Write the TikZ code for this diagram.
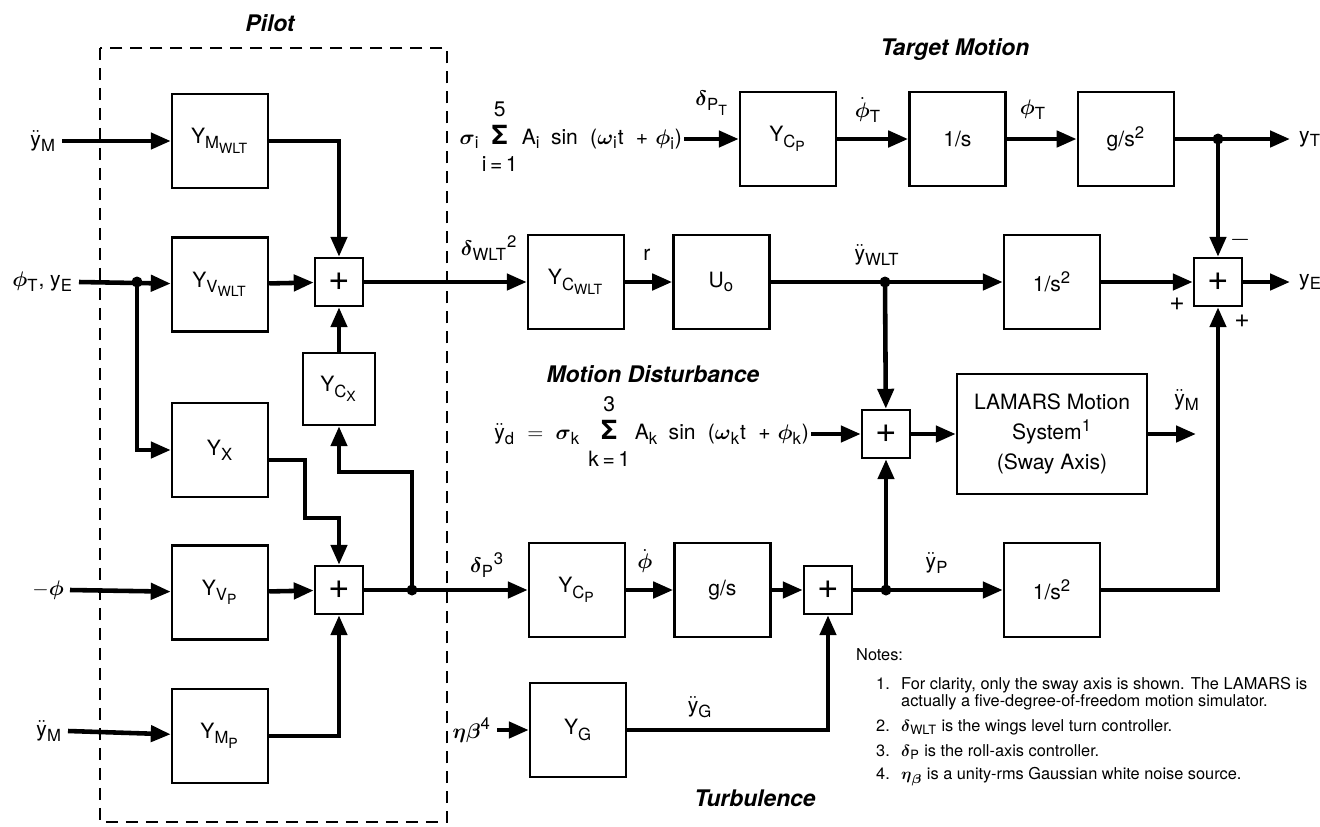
\RequirePackage{fix-cm}
\documentclass[tikz,border=0pt]{standalone}
\usepackage{amsmath}
\usepackage{fontspec}
\setmainfont{TeX Gyre Heros}
\usepackage{tikz}
\usetikzlibrary{positioning,arrows.meta}
\DeclareMathSizes{12}{12}{9.5}{8}
\DeclareMathSizes{9.3}{9.3}{7.3}{5.8}
\newcommand{\tx}[1]{\text{#1}}
\newcommand{\gk}[1]{\boldsymbol{#1}}
\newcommand{\smlm}[2]{\begin{tabular}[c]{@{}c@{}}#1\\[1pt]{\fontsize{15}{15}\selectfont\textbf{Σ}}\\[1pt]\makebox[0pt]{#2}\end{tabular}}

\begin{document}
\begin{tikzpicture}[x=0.02cm,y=-0.02cm,>={Triangle[length=4mm,width=3.2mm]},
  font=\fontsize{12}{14}\selectfont,
  blk/.style={draw,line width=1.4pt,minimum width=19.2mm,minimum height=18.8mm,inner sep=1pt},
  sum/.style={draw,line width=1.4pt,minimum size=9.6mm,inner sep=0pt,font=\fontsize{21}{21}\selectfont},
  dot/.style={circle,fill,inner sep=0pt,minimum size=2.2mm},
  ttl/.style={font=\fontsize{13}{15}\selectfont\bfseries\itshape},
  sig/.style={line width=2.6pt},
  sgn/.style={font=\fontsize{15}{15}\selectfont,inner sep=1pt},
  eqn/.style={inner sep=1pt},
  note/.style={anchor=west,font=\fontsize{9.3}{11}\selectfont}]
  \useasboundingbox (0,0) rectangle (1320,826);
  % pilot
  \draw[line width=1.6pt,dash pattern=on 2.4mm off 1.6mm] (100,48) rectangle (447,822);
  \node[ttl] (tp) at (270,23) {Pilot};
  \node[blk] (ymw) at (220,141) {$\tx{Y}_{\tx{M}_{\tx{WLT}}}$};
  \node[blk,below=9.4mm of ymw] (yvw) {$\tx{Y}_{\tx{V}_{\tx{WLT}}}$};
  \node[blk] (yx) at (220,450) {$\tx{Y}_{\tx{X}}$};
  \node[blk,below=9.2mm of yx] (yvp) {$\tx{Y}_{\tx{V}_{\tx{P}}}$};
  \node[blk,below=9.4mm of yvp] (ymp) {$\tx{Y}_{\tx{M}_{\tx{P}}}$};
  \node[sum] (s1) at (339,282) {+};
  \node[sum] (s2) at (339,590) {+};
  \node[blk,minimum width=14.4mm,minimum height=14.4mm] (ycx) at (339,389) {$\tx{Y}_{\tx{C}_{\tx{X}}}$};
  \node[dot] (d1) at (137,282) {};
  \node[dot] (d2) at (412,590) {};
  \coordinate (xa) at (305,518);
  \coordinate (cb) at (339,472);
  \node[anchor=east] (in1) at (62,141) {$\ddot{\tx{y}}_{\tx{M}}$};
  \node[anchor=east] (in2) at (79,282) {$\gk\phi_{\tx{T}}$, y$_{\tx{E}}$};
  \node[anchor=east] (in3) at (70,590) {$-\gk\phi$};
  \node[anchor=east] (in4) at (68,731) {$\ddot{\tx{y}}_{\tx{M}}$};
  \draw[sig,->] (in1.east) -- (ymw);
  \draw[sig,->] (in2.east) -- (yvw);
  \draw[sig,->] (d1.center) |- (yx);
  \draw[sig,->] (in3.east) -- (yvp);
  \draw[sig,->] (in4.east) -- (ymp);
  \draw[sig,->] (ymw) -| (s1);
  \draw[sig,->] (yvw) -- (s1);
  \draw[sig,->] (ycx) -- (s1);
  \draw[sig,->] ([yshift=-2mm]yx.east) -| (xa) -| (s2);
  \draw[sig,->] (yvp) -- (s2);
  \draw[sig,->] (ymp) -| (s2);
  \draw[sig] (s2) -- (d2.center);
  \draw[sig,->] (d2.center) |- (cb) -- (ycx);
  % target motion
  \node[ttl] (tt) at (955,50) {Target Motion};
  \node[eqn,anchor=east] (src1) at (684,139) {$\gk\sigma_{\tx{i}}$\hspace{7pt}\smlm{5}{i\,=\,1}\hspace{8pt}A$_{\tx{i}}$\hspace{6pt}sin\hspace{7pt}($\gk\omega_{\tx{i}}$t\hspace{7pt}+\hspace{4pt}$\gk\phi_{\tx{i}}$)};
  \node[blk] (ycpt) at (788,139) {$\tx{Y}_{\tx{C}_{\tx{P}}}$};
  \node[blk,right=14.2mm of ycpt] (int1) {1/s};
  \node[blk,right=14mm of int1] (gs2) {g/s$^{\tx{2}}$};
  \node[dot] (d4) at (1218,139) {};
  \coordinate (yt) at (1290,139);
  \node[anchor=west] (lyt) at (1293,139) {y$_{\tx{T}}$};
  \node (lpt) at (712,103) {$\gk\delta_{\tx{P}_{\tx{T}}}$};
  \node (lpd) at (868,110) {$\dot{\gk\phi}_{\tx{T}}$};
  \node (lph) at (1033,110) {$\gk\phi_{\tx{T}}$};
  \draw[sig,->] (src1) -- (ycpt);
  \draw[sig,->] (ycpt) -- (int1);
  \draw[sig,->] (int1) -- (gs2);
  \draw[sig] (gs2) -- (d4.center);
  \draw[sig,->] (d4.center) -- (yt);
  % wings level turn
  \node[blk] (ycw) at (576,282) {$\tx{Y}_{\tx{C}_{\tx{WLT}}}$};
  \node[blk,right=9.4mm of ycw] (uo) {U$_{\tx{o}}$};
  \node[dot] (d3) at (885,282) {};
  \node[blk] (is2a) at (1052,282) {1/s$^{\tx{2}}$};
  \node[sum] (s3) at (1218,282) {+};
  \coordinate (ye) at (1290,282);
  \node[anchor=west] (lye) at (1293,282) {y$_{\tx{E}}$};
  \node (lwl) at (489,248) {$\gk\delta_{\tx{WLT}}{}^{\tx{2}}$};
  \node (lr) at (647,255) {r};
  \node (lyw) at (877,255) {$\ddot{\tx{y}}_{\tx{WLT}}$};
  \node[sgn] (sm) at (1240,240) {$-$};
  \node[sgn] (sp1) at (1177,304) {+};
  \node[sgn] (sp2) at (1242,321) {+};
  \draw[sig,->] (s1) -- (ycw);
  \draw[sig,->] (ycw) -- (uo);
  \draw[sig] (uo) -- (d3.center);
  \draw[sig,->] (d3.center) -- (is2a);
  \draw[sig,->] (is2a) -- (s3);
  \draw[sig,->] (d4.center) -- (s3);
  \draw[sig,->] (s3) -- (ye);
  % motion disturbance
  \node[ttl] (tmd) at (653,374) {Motion Disturbance};
  \node[eqn,anchor=east] (src2) at (811,434) {$\ddot{\tx{y}}_{\tx{d}}$\hspace{7pt}$=$\hspace{7pt}$\gk\sigma_{\tx{k}}$\hspace{12pt}\smlm{3}{k\,=\,1}\hspace{10pt}A$_{\tx{k}}$\hspace{6pt}sin\hspace{7pt}($\gk\omega_{\tx{k}}$t\hspace{7pt}+\hspace{4pt}$\gk\phi_{\tx{k}}$)};
  \node[sum] (s4) at (886,434) {+};
  \node[blk,minimum width=38mm,minimum height=24mm,align=center,font=\fontsize{12}{17}\selectfont] (lam) at (1052,434) {LAMARS Motion\\System$^{\tx{1}}$\\(Sway Axis)};
  \coordinate (ym) at (1196,434);
  \node (lym) at (1187,400) {$\ddot{\tx{y}}_{\tx{M}}$};
  % roll axis
  \node[blk] (ycp) at (577,590) {$\tx{Y}_{\tx{C}_{\tx{P}}}$};
  \node[blk,right=9.4mm of ycp] (gs) {g/s};
  \node[sum] (s5) at (828,590) {+};
  \node[dot] (d5) at (886,590) {};
  \node[blk] (is2b) at (1052,590) {1/s$^{\tx{2}}$};
  \node (ldp) at (487,565) {$\gk\delta_{\tx{P}}{}^{\tx{3}}$};
  \node (lpd2) at (645,561) {$\dot{\gk\phi}$};
  \node (lyp) at (937,563) {$\ddot{\tx{y}}_{\tx{P}}$};
  \draw[sig,->] (d2.center) -- (ycp);
  \draw[sig,->] (ycp) -- (gs);
  \draw[sig,->] (gs) -- (s5);
  \draw[sig] (s5) -- (d5.center);
  \draw[sig,->] (d5.center) -- (is2b);
  \draw[sig,->] (is2b) -| (s3);
  \draw[sig,->] (d3.center) -- (s4);
  \draw[sig,->] (d5.center) -- (s4);
  \draw[sig,->] (src2) -- (s4);
  \draw[sig,->] (s4) -- (lam);
  \draw[sig,->] (lam) -- (ym);
  % turbulence
  \node[anchor=east] (eta) at (497,730) {$\gk\eta\gk\beta^{\tx{4}}$};
  \node[blk] (yg) at (578,730) {$\tx{Y}_{\tx{G}}$};
  \node (lyg) at (700,707) {$\ddot{\tx{y}}_{\tx{G}}$};
  \node[ttl] (ttb) at (755,798) {Turbulence};
  \draw[sig,->] (eta) -- (yg);
  \draw[sig,->] (yg) -| (s5);
  % notes
  \node[note] (nts) at (850,655) {Notes:};
  \foreach \nn/\ny/\nt in {1/685/{For clarity, only the sway axis is shown. The LAMARS is},
      2/727/{$\gk\delta_{\tx{WLT}}$ is the wings level turn controller.},
      3/752/{$\gk\delta_{\tx{P}}$ is the roll-axis controller.},
      4/777/{$\gk\eta_{\gk\beta}$ is a unity-rms Gaussian white noise source.}}
    \node[note] (n\nn) at (870,\ny) {\makebox[5mm][l]{\nn.}\nt};
  \node[note] (n1b) at (895,702) {actually a five-degree-of-freedom motion simulator.};
\end{tikzpicture}
\end{document}
